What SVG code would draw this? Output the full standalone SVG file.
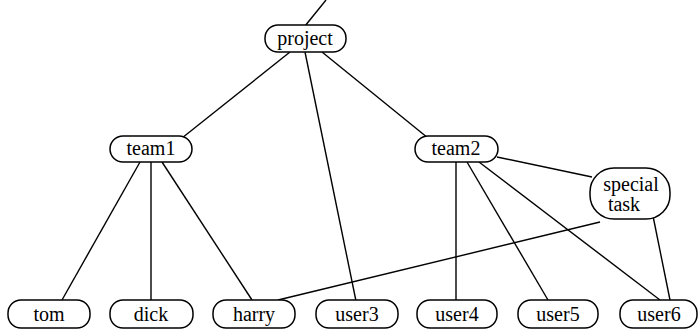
<svg xmlns="http://www.w3.org/2000/svg" width="698" height="336" viewBox="0 0 698 336">
<style>
.n{fill:#fff;stroke:#000;stroke-width:1.5}
.t{font-size:20px;fill:#000;text-anchor:middle}
.e{stroke:#000;stroke-width:1.4;fill:none}
</style>
<rect width="698" height="336" fill="#fff"/>
<g id="connectors">
<line class="e" x1="326" y1="0" x2="305" y2="26"/>
<line class="e" x1="290" y1="52" x2="182" y2="138"/>
<line class="e" x1="305" y1="52" x2="356" y2="301"/>
<line class="e" x1="322" y1="52" x2="428" y2="138"/>
<line class="e" x1="140" y1="162" x2="62" y2="300"/>
<line class="e" x1="151" y1="162" x2="151" y2="300"/>
<line class="e" x1="162" y1="162" x2="252" y2="300"/>
<line class="e" x1="456" y1="162" x2="456" y2="300"/>
<line class="e" x1="467" y1="162" x2="548" y2="300"/>
<line class="e" x1="479" y1="162" x2="660" y2="300"/>
<line class="e" x1="497" y1="157" x2="592" y2="177"/>
<line class="e" x1="653" y1="216" x2="670" y2="300"/>
<line class="e" x1="600" y1="222" x2="278" y2="300"/>
</g>
<g font-family="Liberation Serif, serif">
<g id="project"><rect class="n" x="265" y="25" width="81" height="27" rx="13"/><text class="t" x="305" y="45">project</text></g>
<g id="team1"><rect class="n" x="110" y="136" width="82" height="26" rx="13"/><text class="t" x="151" y="155">team1</text></g>
<g id="team2"><rect class="n" x="415" y="136" width="83" height="26" rx="13"/><text class="t" x="456" y="155">team2</text></g>
<g id="special"><rect class="n" x="590" y="168" width="80" height="51" rx="24"/><text class="t" x="631" y="191">special</text><text class="t" x="624" y="211">task</text></g>
<g id="tom"><rect class="n" x="8" y="300" width="82" height="28" rx="13"/><text class="t" x="49" y="321">tom</text></g>
<g id="dick"><rect class="n" x="110" y="300" width="83" height="28" rx="13"/><text class="t" x="151" y="321">dick</text></g>
<g id="harry"><rect class="n" x="213" y="300" width="82" height="28" rx="13"/><text class="t" x="254" y="321">harry</text></g>
<g id="user3"><rect class="n" x="316" y="300" width="82" height="28" rx="13"/><text class="t" x="357" y="321">user3</text></g>
<g id="user4"><rect class="n" x="417" y="300" width="80" height="28" rx="13"/><text class="t" x="457" y="321">user4</text></g>
<g id="user5"><rect class="n" x="518" y="300" width="80" height="28" rx="13"/><text class="t" x="558" y="321">user5</text></g>
<g id="user6"><rect class="n" x="620" y="300" width="77" height="28" rx="13"/><text class="t" x="659" y="321">user6</text></g>
</g>
</svg>
